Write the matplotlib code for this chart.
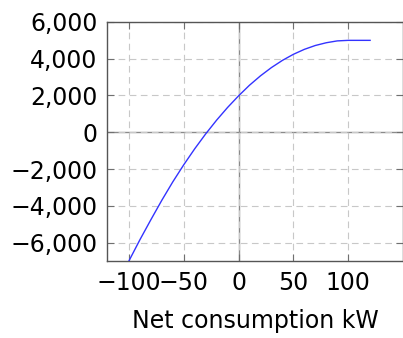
import numpy as np
import matplotlib
matplotlib.use('Agg')
import matplotlib.pyplot as plt

# valores
consumo_kw = [-100, -90, -80, -70, -60, -50, -40, -30, -20, -10, 0,
              10, 20, 30, 40, 50, 60, 70, 80, 90, 100, 110, 120]
valor = [-7000, -5850, -4760, -3700, -2700, -1770, -900, -90, 660, 1350, 1980,
         2560, 3070, 3520, 3910, 4240, 4510, 4720, 4870, 4970, 5000, 5000, 5000]

xticks = [-100, -50, 0, 50, 100]
xtick_labels = ['\u2212100', '\u221250', '0', '50', '100']
yticks = [6000, 4000, 2000, 0, -2000, -4000, -6000]
ytick_labels = ['6,000', '4,000', '2,000', '0', '\u22122,000', '\u22124,000', '\u22126,000']

plt.rcParams['font.family'] = 'DejaVu Sans'

fig = plt.figure(figsize=(4.03, 3.38), dpi=100)
ax = fig.add_axes([0.2655, 0.228, 0.7345, 0.707])

# grade tracejada
ax.grid(True, color='#c8c8c8', linestyle=(0, (6, 4)), linewidth=0.8)
ax.axhline(0, color='#8a8a8a', lw=1.0, zorder=1)
ax.axvline(0, color='#8a8a8a', lw=1.0, zorder=1)

ax.plot(consumo_kw, valor, color='#3333ff', lw=1.0, zorder=3)

ax.set_xlim(-120, 150)
ax.set_ylim(-7000, 6000)
ax.set_xticks(xticks)
ax.set_xticklabels(xtick_labels)
ax.set_yticks(yticks)
ax.set_yticklabels(ytick_labels)
ax.tick_params(direction='in', length=5, width=0.8, color='#707070',
               top=True, right=True, labelsize=17, pad=7)
for s in ax.spines.values():
    s.set_color('#555555')
    s.set_linewidth(1.0)

ax.set_xlabel('Net consumption kW', fontsize=17, labelpad=10)

fig.savefig('out.png', dpi=100)
